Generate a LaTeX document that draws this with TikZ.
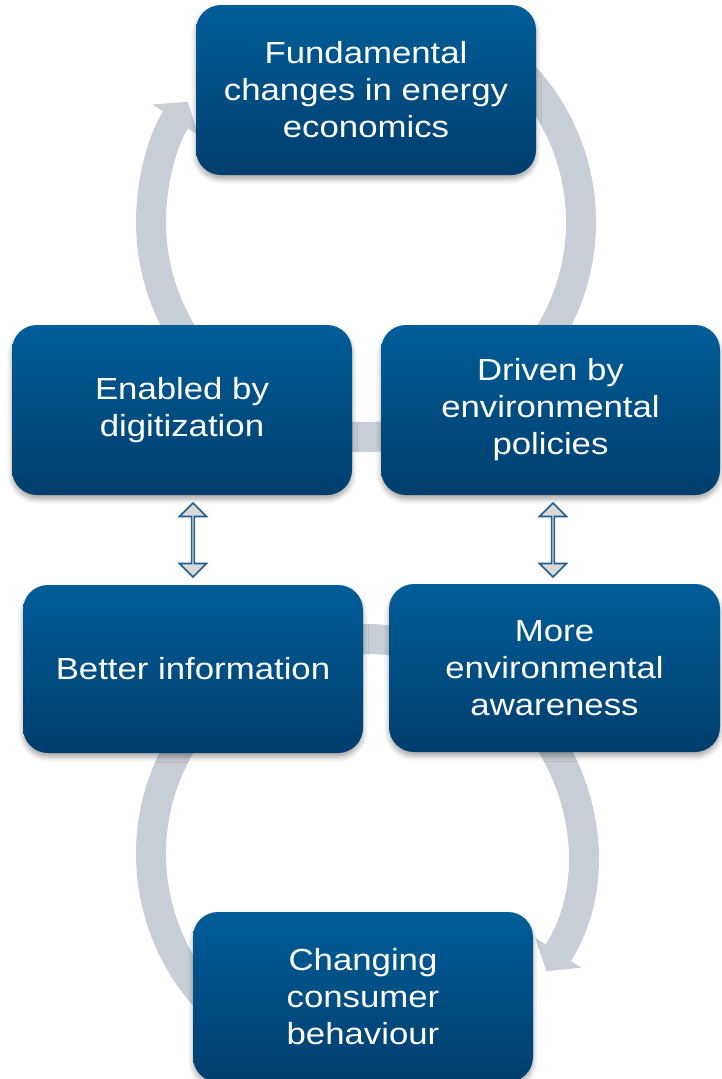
\documentclass[tikz,border=0pt]{standalone}
\usepackage{fontspec}
\setmainfont{Liberation Sans}
\newfontfamily\boxfont[FakeStretch=1.14]{Liberation Sans}
\usetikzlibrary{arrows.meta,shapes.arrows,shadows.blur}
\definecolor{boxtop}{RGB}{0,93,152}
\definecolor{boxbot}{RGB}{0,62,110}
\definecolor{ringgray}{RGB}{200,206,214}
\definecolor{arrowline}{RGB}{31,94,140}
\definecolor{arrowfill}{RGB}{217,217,217}
\tikzset{
  x=1pt, y=1pt,
  box/.style={rounded corners=25pt, top color=boxtop, bottom color=boxbot,
    text=white, align=center, minimum width=340pt, minimum height=170pt,
    inner sep=0pt, font=\boxfont\fontsize{30.5}{37}\selectfont,
    blur shadow={shadow xshift=0pt, shadow yshift=-4pt, shadow blur radius=5pt, shadow opacity=35}},
  ring/.style={draw=ringgray, line width=30pt, line cap=butt,
    -{Triangle[length=22pt,width=54pt]}},
  dblarrow/.style={double arrow, rotate=90, draw=arrowline, fill=arrowfill,
    line width=1.6pt, minimum height=74pt, minimum width=27pt,
    double arrow head extend=7pt, inner sep=0pt}
}
\begin{document}
\begin{tikzpicture}
\useasboundingbox (0,0) rectangle (721,-1079);
% ring centres
\coordinate (cu) at (366,-222);
\coordinate (cl) at (366,-854);
% gray circular arrows (drawn beneath the boxes)
\draw[ring] ([shift={(60:215pt)}]cu) arc[start angle=60, end angle=-214, radius=215pt];
\draw[ring] ([shift={(235:215pt)}]cl) arc[start angle=235, end angle=-33, radius=215pt];
% boxes
\node[box] (top) at (366,-90) {Fundamental\\changes in energy\\economics};
\node[box] (enab) at (182,-410) {Enabled by\\digitization};
\node[box, minimum width=339pt] (driv) at (550.5,-410) {Driven by\\environmental\\policies};
\node[box, minimum height=168pt] (info) at (193,-669) {Better information};
\node[box, minimum width=331pt, minimum height=168pt] (aware) at (554.5,-668) {More\\environmental\\awareness};
\node[box] (cons) at (363,-997) {Changing\\consumer\\behaviour};
% double arrows
\node[dblarrow] (da1) at (193,-540) {};
\node[dblarrow] (da2) at (553,-540) {};
\end{tikzpicture}
\end{document}
